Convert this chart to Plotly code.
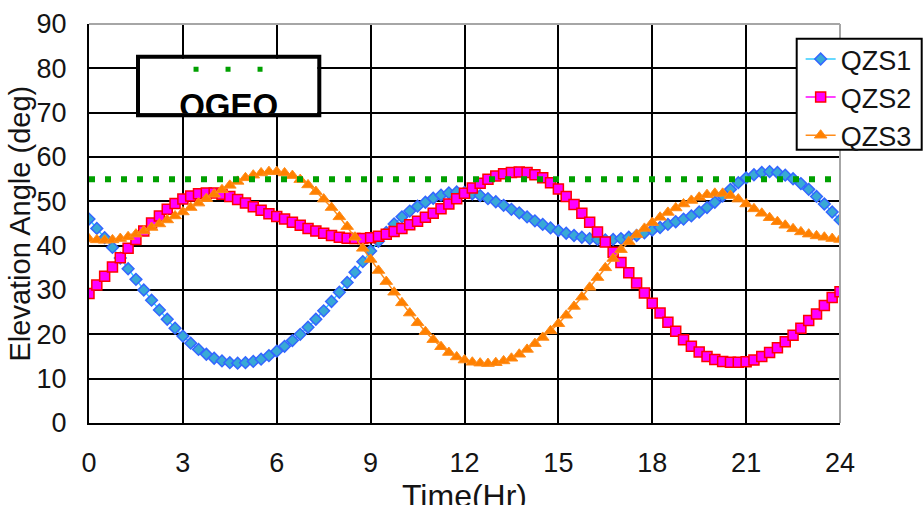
import plotly.graph_objects as go

# ---------------- data ----------------
hours = [i * 0.25 for i in range(97)]  # 0 .. 24 h, 15-min samples

qzs1 = [
    46.0, 43.9, 41.8, 39.6,
    37.2, 34.8, 32.4, 30.0,
    27.7, 25.5, 23.4, 21.4,
    19.6, 18.0, 16.6, 15.5,
    14.6, 14.0, 13.6, 13.5,
    13.6, 13.9, 14.4, 15.2,
    16.2, 17.3, 18.6, 20.0,
    21.6, 23.4, 25.3, 27.4,
    29.5, 31.7, 34.0, 36.4,
    38.8, 41.0, 43.0, 44.9,
    46.5, 47.8, 48.9, 49.8,
    50.7, 51.4, 51.9, 52.1,
    52.0, 51.7, 51.3, 50.6,
    49.9, 49.1, 48.2, 47.4,
    46.5, 45.6, 44.8, 44.0,
    43.4, 42.8, 42.3, 41.9,
    41.6, 41.4, 41.3, 41.4,
    41.6, 41.9, 42.3, 42.9,
    43.5, 44.1, 44.8, 45.4,
    46.0, 46.7, 47.6, 48.6,
    49.8, 51.2, 52.7, 54.2,
    55.3, 56.0, 56.5, 56.7,
    56.5, 55.9, 55.1, 54.0,
    52.7, 51.1, 49.4, 47.6,
    45.8,
]

qzs2 = [
    29.2, 31.1, 33.1, 35.2,
    37.3, 39.4, 41.4, 43.3,
    45.1, 46.7, 48.2, 49.5,
    50.5, 51.2, 51.7, 51.9,
    51.9, 51.6, 51.1, 50.4,
    49.6, 48.8, 48.0, 47.2,
    46.6, 46.0, 45.3, 44.6,
    43.9, 43.3, 42.8, 42.3,
    41.9, 41.7, 41.6, 41.6,
    41.8, 42.1, 42.6, 43.2,
    43.9, 44.7, 45.5, 46.4,
    47.3, 48.3, 49.4, 50.6,
    51.8, 53.0, 54.1, 55.0,
    55.7, 56.2, 56.5, 56.6,
    56.5, 56.0, 55.3, 54.2,
    52.8, 51.1, 49.3, 47.3,
    45.3, 43.1, 40.8, 38.5,
    36.2, 33.9, 31.6, 29.3,
    27.0, 24.8, 22.7, 20.7,
    18.8, 17.3, 16.0, 15.0,
    14.3, 13.9, 13.7, 13.7,
    13.8, 14.2, 15.0, 15.9,
    17.0, 18.3, 19.8, 21.4,
    23.1, 24.6, 26.5, 28.3,
    29.6,
]

qzs3 = [
    41.5, 41.3, 41.2, 41.3,
    41.6, 42.0, 42.6, 43.3,
    44.1, 44.9, 45.8, 46.7,
    47.6, 48.6, 49.6, 50.6,
    51.6, 52.6, 53.6, 54.5,
    55.3, 55.9, 56.4, 56.7,
    56.7, 56.4, 55.8, 54.9,
    53.7, 52.2, 50.5, 48.6,
    46.5, 44.3, 41.9, 39.4,
    36.9, 34.4, 31.9, 29.5,
    27.1, 24.8, 22.6, 20.6,
    18.8, 17.2, 15.9, 14.9,
    14.2, 13.7, 13.5, 13.4,
    13.6, 14.0, 14.6, 15.5,
    16.6, 17.9, 19.3, 20.8,
    22.4, 24.3, 26.3, 28.4,
    30.6, 32.8, 35.0, 37.1,
    39.1, 40.9, 42.5, 43.9,
    45.2, 46.4, 47.5, 48.5,
    49.4, 50.2, 50.9, 51.5,
    51.8, 51.8, 51.3, 50.5,
    49.4, 48.3, 47.3, 46.3,
    45.4, 44.6, 43.8, 43.1,
    42.6, 42.2, 41.9, 41.6,
    41.4,
]

qgeo_hours = [0, 24]
qgeo_elev = [55, 55]

x_ticks = [0, 3, 6, 9, 12, 15, 18, 21, 24]
y_ticks = [0, 10, 20, 30, 40, 50, 60, 70, 80, 90]

series_names = ["QZS1", "QZS2", "QZS3"]
x_title = "Time(Hr)"
y_title = "Elevation Angle (deg)"
qgeo_label = "QGEO"

# ---------------- styling ----------------
FONT = "Liberation Sans, Arial, sans-serif"
TXT = "#141414"
GREEN = "#00A000"

fig = go.Figure()

fig.add_trace(go.Scatter(
    x=hours, y=qzs1, name=series_names[0], mode="lines+markers",
    line=dict(color="#33CCFF", width=1.5),
    marker=dict(symbol="diamond", size=9, color="#38A9D6",
                line=dict(color="#3366FF", width=1.5)),
))
fig.add_trace(go.Scatter(
    x=hours, y=qzs2, name=series_names[1], mode="lines+markers",
    line=dict(color="#FF00FF", width=1.5),
    marker=dict(symbol="square", size=10, color="#FF00FF",
                line=dict(color="#FF0000", width=1.5)),
))
fig.add_trace(go.Scatter(
    x=hours, y=qzs3, name=series_names[2], mode="lines+markers",
    line=dict(color="#FF8C1A", width=1.5),
    marker=dict(symbol="triangle-up", size=11, color="#FF8000",
                line=dict(color="#FF8C1A", width=1)),
))
fig.add_trace(go.Scatter(
    x=qgeo_hours, y=qgeo_elev, mode="lines", showlegend=False, hoverinfo="skip",
    line=dict(color=GREEN, width=6, dash="6px,10px"),
))

# QGEO key box (own small subplot so the label is clipped by the box)
fig.add_trace(go.Scatter(
    x=[0.302, 0.694], y=[0.806, 0.806], mode="lines", showlegend=False,
    hoverinfo="skip", xaxis="x2", yaxis="y2",
    line=dict(color=GREEN, width=5, dash="5px,27px"),
))
fig.add_trace(go.Scatter(
    x=[0.5], y=[0.09], mode="text", text=["<b>" + qgeo_label + "</b>"],
    textposition="middle center", showlegend=False, hoverinfo="skip",
    xaxis="x2", yaxis="y2", cliponaxis=True,
    textfont=dict(family=FONT, size=33, color="black"),
))

axis_common = dict(
    showgrid=True, gridcolor="black", gridwidth=2,
    showline=True, linecolor="black", linewidth=2,
    ticks="", zeroline=False, fixedrange=True,
    tickfont=dict(family=FONT, size=27, color=TXT),
)

fig.update_layout(
    width=923, height=505,
    margin=dict(l=89, r=83, t=24, b=82, autoexpand=False),
    paper_bgcolor="white", plot_bgcolor="white",
    font=dict(family=FONT, color=TXT),
    xaxis=dict(range=[0, 24], tickvals=x_ticks, ticktext=[str(v) for v in x_ticks],
               ticklabelstandoff=15, **axis_common),
    yaxis=dict(range=[0, 90], tickvals=y_ticks, ticktext=[str(v) for v in y_ticks],
               ticklabelstandoff=15, **axis_common),
    xaxis2=dict(domain=[0.0679, 0.3040], range=[0, 1], visible=False,
                anchor="y2", fixedrange=True),
    yaxis2=dict(domain=[0.7762, 0.9130], range=[0, 1], visible=False,
                anchor="x2", fixedrange=True),
    showlegend=True,
    legend=dict(x=0.9476, y=0.9725, xanchor="left", yanchor="top",
                bgcolor="rgba(0,0,0,0)", borderwidth=0,
                font=dict(family=FONT, size=27, color=TXT),
                tracegroupgap=0, itemwidth=30),
    shapes=[
        dict(type="rect", xref="x2", yref="y2", x0=0, x1=1, y0=0, y1=1,
             fillcolor="white", line=dict(width=0), layer="below"),
        dict(type="rect", xref="paper", yref="paper",
             x0=0.06525, x1=0.30666, y0=0.77118, y1=0.91805,
             line=dict(color="black", width=4), fillcolor="rgba(0,0,0,0)",
             layer="above"),
        dict(type="line", xref="paper", yref="paper", x0=0, x1=1, y0=1, y1=1,
             line=dict(color="#A6A6A6", width=2), layer="above"),
        dict(type="line", xref="paper", yref="paper", x0=1, x1=1, y0=0, y1=1,
             line=dict(color="#A6A6A6", width=2), layer="above"),
        # legend frame (white box with black border, sits above grid/traces)
        dict(type="rect", xref="paper", yref="paper",
             x0=(796.7 - 89) / 751, x1=(921.7 - 89) / 751,
             y0=(423 - 149.7) / 399, y1=(423 - 38.7) / 399,
             line=dict(color="black", width=2), fillcolor="white",
             layer="above"),
    ],
    annotations=[
        dict(text=y_title, xref="paper", yref="paper", x=-0.0919, y=0.5,
             xanchor="center", yanchor="middle", textangle=-90, showarrow=False,
             font=dict(family=FONT, size=29, color=TXT)),
        dict(text=x_title, xref="paper", yref="paper", x=0.5, y=-0.1328,
             xanchor="center", yanchor="top", showarrow=False,
             font=dict(family=FONT, size=32, color=TXT)),
    ],
)

fig.write_html("out.html")
